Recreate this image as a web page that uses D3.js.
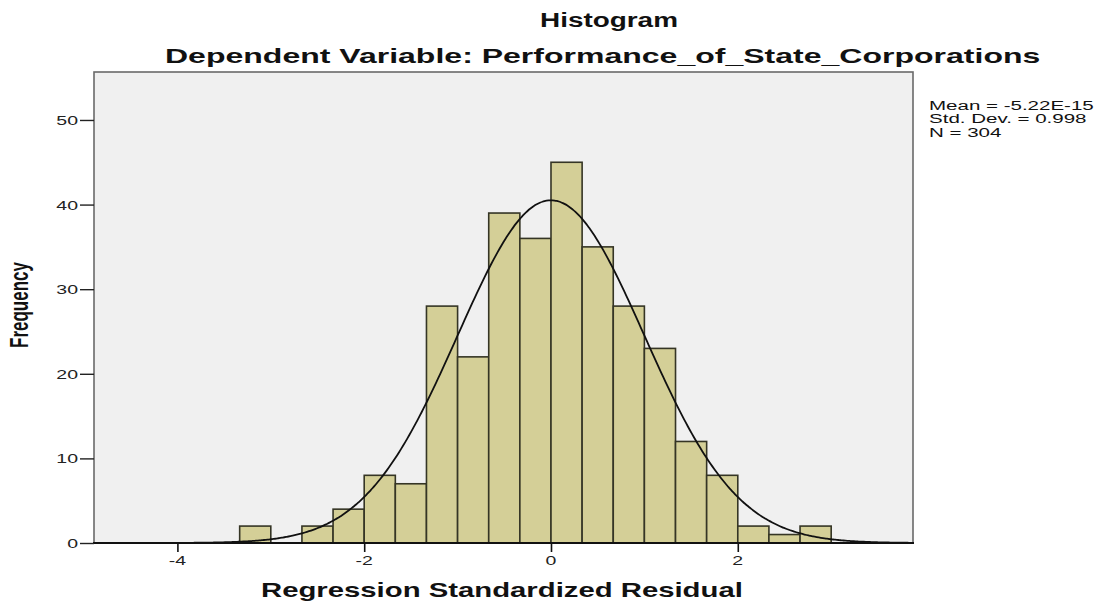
<!DOCTYPE html>
<html><head><meta charset="utf-8">
<script src="https://cdn.jsdelivr.net/npm/d3@7"></script>
<style>body{margin:0;background:#fff}svg{display:block}</style>
</head><body><svg id="c" width="1097" height="603"></svg>
<script>
// ---- data ----
const binLow = [-3.3333,-3.0,-2.6667,-2.3333,-2.0,-1.6667,-1.3333,-1.0,-0.6667,-0.3333,0,0.3333,0.6667,1.0,1.3333,1.6667,2.0,2.3333,2.6667];
const frequency = [2,0,2,4,8,7,28,22,39,36,45,35,28,23,12,8,2,1,2];
const binWidth = 1/3;
const yTickValues = [0,10,20,30,40,50];
const xTickValues = [-4,-2,0,2];
const xTickLabels = ["-4","-2","0","2"];
const meanValue = -5.22e-15;
const sdValue = 0.998;
const nValue = 304;
const statLabels = ["Mean = -5.22E-15","Std. Dev. = 0.998","N = 304"];
const titleText = "Histogram";
const subtitleText = "Dependent Variable: Performance_of_State_Corporations";
const xTitle = "Regression Standardized Residual";
const yTitle = "Frequency";

// ---- layout ----
const svg = d3.select("#c");
const L = 94, R = 913, T = 72, B = 543;
const x = d3.scaleLinear().domain([-4.893, 3.876]).range([L, R]);
const y = d3.scaleLinear().domain([0, 55.67]).range([B, T]);
const FONT = "'Liberation Sans', Arial, Helvetica, sans-serif";

// plot background / frame
svg.append("rect").attr("x", L).attr("y", T).attr("width", R - L).attr("height", B - T)
  .attr("fill", "#f0f0f0").attr("stroke", "#6a6a6a").attr("stroke-width", 1.6);

// bars
const bins = binLow.map((b, i) => ({x0: b, x1: b + binWidth, f: frequency[i]})).filter(d => d.f > 0);
svg.append("g").selectAll("rect").data(bins).join("rect")
  .attr("x", d => x(d.x0)).attr("width", d => x(d.x1) - x(d.x0))
  .attr("y", d => y(d.f)).attr("height", d => y(0) - y(d.f))
  .attr("fill", "#d4cf97").attr("stroke", "#353525").attr("stroke-width", 1.6);

// normal curve
const pdf = v => Math.exp(-0.5 * Math.pow((v - meanValue) / sdValue, 2)) / (sdValue * Math.sqrt(2 * Math.PI));
const xs = d3.range(0, 401).map(i => x.domain()[0] + (x.domain()[1] - x.domain()[0]) * i / 400);
svg.append("path").datum(xs)
  .attr("d", d3.line().x(v => x(v)).y(v => y(nValue * binWidth * pdf(v))).curve(d3.curveBasis))
  .attr("fill", "none").attr("stroke", "#111").attr("stroke-width", 1.8);

// x axis
const xAxis = svg.append("g").attr("transform", `translate(0,${B})`)
  .call(d3.axisBottom(x).tickValues(xTickValues).tickSize(9));
xAxis.select(".domain").remove();
xAxis.selectAll(".tick line").attr("stroke", "#111").attr("stroke-width", 1.6);
xAxis.selectAll(".tick text").remove();
svg.append("line").attr("x1", L - 1).attr("x2", R + 1).attr("y1", B).attr("y2", B)
  .attr("stroke", "#111").attr("stroke-width", 1.8);

// y axis
const yAxis = svg.append("g").attr("transform", `translate(${L},0)`)
  .call(d3.axisLeft(y).tickValues(yTickValues).tickSize(14));
yAxis.select(".domain").remove();
yAxis.selectAll(".tick line").attr("stroke", "#222").attr("stroke-width", 1.4);
yAxis.selectAll(".tick text").remove();

// stretched text helper
function stext(px, py, str, opt) {
  const g = svg.append("g");
  const t = g.append("text").text(str)
    .attr("font-family", FONT).attr("font-size", opt.size)
    .attr("font-weight", opt.bold ? "bold" : "normal")
    .attr("fill", opt.color || "#111")
    .attr("text-anchor", opt.anchor || "start");
  let k = opt.k || 1;
  if (opt.width) k = opt.width / t.node().getComputedTextLength();
  g.attr("transform", `translate(${px},${py}) scale(${k},1)` + (opt.rotate ? ` rotate(${opt.rotate})` : ""));
  return k;
}

// tick labels
xTickValues.forEach((v, i) => stext(x(v), 565, xTickLabels[i], {size: 13, anchor: "middle", k: 1.5, color: "#222"}));
yTickValues.forEach(v => stext(L - 16, y(v) + 5, String(v), {size: 13, anchor: "end", k: 1.5, color: "#222"}));

// titles
stext(540, 27, titleText, {size: 20, bold: true, width: 138});
stext(165, 63, subtitleText, {size: 20, bold: true, width: 876});
stext(261, 597, xTitle, {size: 20, bold: true, width: 482});
stext(28, 305, yTitle, {size: 17, bold: true, anchor: "middle", k: 1.5, rotate: -90});

// stats legend
let kl = stext(929, 110, statLabels[0], {size: 12, width: 165, color: "#111"});
statLabels.slice(1).forEach((s, i) => stext(929, 110 + 13.4 * (i + 1), s, {size: 12, k: kl, color: "#111"}));
</script></body></html>
